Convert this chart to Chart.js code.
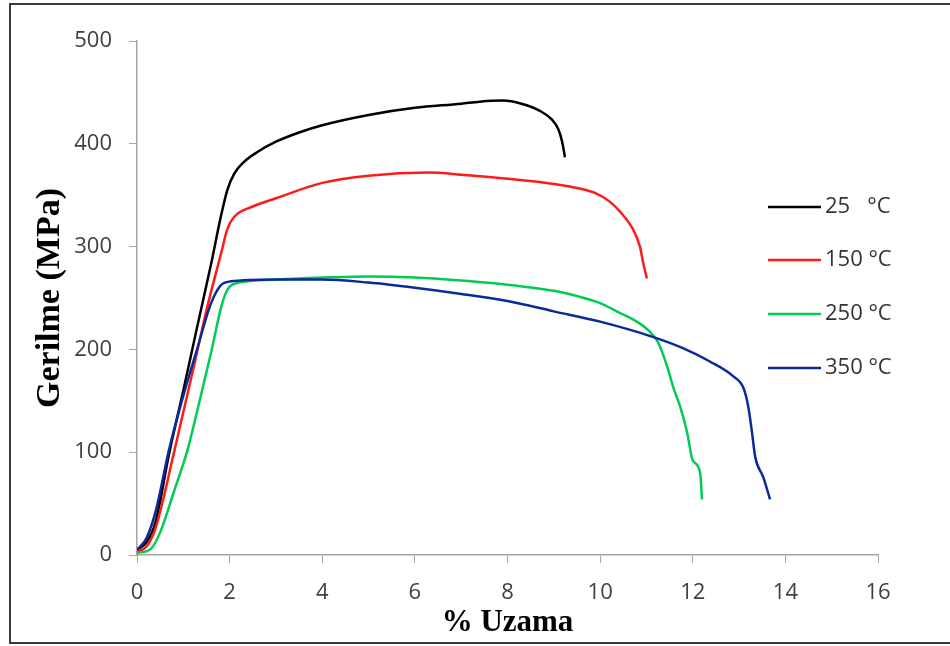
<!DOCTYPE html>
<html>
<head>
<meta charset="utf-8">
<script src="https://cdn.jsdelivr.net/npm/chart.js@4.4.1/dist/chart.umd.min.js"></script>
<style>
  html, body { margin: 0; padding: 0; background: #fff; }
  #wrap { width: 950px; height: 646px; }
</style>
</head>
<body>
<div id="wrap"><canvas id="stress"></canvas></div>
<script>
const ctx = document.getElementById('stress');

// % elongation / stress (MPa)
const SERIES_LABELS = ['25   °C', '150 °C', '250 °C', '350 °C'];

const strain25 = [0, 0.2, 0.4, 0.7, 1.0, 1.3, 1.6, 1.8, 1.95, 2.1, 2.3, 2.6, 3.0, 3.5, 4.0, 5.0, 6.0, 7.0, 7.4, 7.9, 8.3, 8.7, 8.95, 9.1, 9.18, 9.24];
const stress25 = [5, 12, 32, 100, 160, 222, 283, 327, 355, 371, 382, 392, 402, 411, 418, 428, 435, 439, 441, 442, 439, 432, 424, 414, 402, 387];

const strain150 = [0, 0.2, 0.4, 0.8, 1.2, 1.5, 1.83, 1.95, 2.1, 2.5, 3.0, 4.0, 5.0, 6.3, 7.0, 8.0, 9.0, 9.5, 9.9, 10.2, 10.43, 10.72, 10.86, 10.93, 11.01];
const stress150 = [3, 8, 26, 100, 178, 238, 296, 317, 329, 339, 347, 362, 369, 372, 370, 366, 361, 357, 352, 344, 334, 316, 300, 284, 269];

const strain250 = [0, 0.3, 0.5, 0.8, 1.09, 1.3, 1.61, 1.8, 1.9, 2.0, 2.2, 3.0, 4.0, 5.0, 6.0, 7.0, 8.0, 9.0, 9.5, 10.0, 10.4, 10.72, 11.08, 11.26, 11.45, 11.58, 11.73, 11.88, 12.0, 12.16, 12.2];
const stress250 = [2, 6, 22, 62, 102, 140, 199, 238, 253, 261, 265, 268, 270, 271, 270, 267, 263, 257, 252, 245, 236, 229, 217, 206, 183, 163, 144, 119, 92, 80, 54];

const strain350 = [0, 0.2, 0.4, 0.69, 1.0, 1.29, 1.6, 1.8, 1.9, 2.0, 3.0, 4.0, 5.0, 6.0, 7.0, 8.0, 9.0, 10.0, 11.15, 11.8, 12.38, 12.87, 13.1, 13.2, 13.28, 13.35, 13.52, 13.67];
const stress350 = [5, 16, 42, 102, 155, 199, 245, 262, 265, 266, 268, 268, 265, 260, 254, 247, 237, 227, 212, 201, 188, 174, 162, 144, 119, 95, 76, 54];

const X_TICKS = [0, 2, 4, 6, 8, 10, 12, 14, 16];
const Y_TICKS = [0, 100, 200, 300, 400, 500];

const COLORS = ['#000000', '#ff1a1a', '#00cc55', '#0a2a98'];

function toPoints(xs, ys) {
  return xs.map((x, i) => ({ x: x, y: ys[i] }));
}

const curves = [
  toPoints(strain25, stress25),
  toPoints(strain150, stress150),
  toPoints(strain250, stress250),
  toPoints(strain350, stress350)
];

const datasets = curves.map((pts, i) => ({
  label: SERIES_LABELS[i],
  data: pts,
  borderColor: COLORS[i],
  backgroundColor: COLORS[i],
  borderWidth: 2.5,
  pointRadius: 0,
  fill: false,
  cubicInterpolationMode: 'monotone',
  order: 3 - i
}));

// frame round the whole picture + legend on the right
const framePlugin = {
  id: 'frame',
  afterDraw(chart) {
    const c = chart.ctx;
    c.save();
    c.strokeStyle = '#3a3a3a';
    c.lineWidth = 2;
    c.strokeRect(10, 4, 960, 639);

    const ys = [207, 260, 314, 368];
    c.font = '22px "Open Sans"';
    c.textBaseline = 'middle';
    c.textAlign = 'left';
    chart.data.datasets.forEach((ds, i) => {
      c.strokeStyle = ds.borderColor;
      c.lineWidth = 2.5;
      c.beginPath();
      c.moveTo(768, ys[i]);
      c.lineTo(821, ys[i]);
      c.stroke();
      c.fillStyle = '#333333';
      c.fillText(ds.label, 825, ys[i]);
    });
    c.restore();
  }
};

const tickFont = { family: '"Open Sans"', size: 22 };
const axisGrey = '#a6a6a6';

new Chart(ctx, {
  type: 'line',
  data: { datasets },
  plugins: [framePlugin],
  options: {
    responsive: true,
    maintainAspectRatio: false,
    animation: false,
    layout: { padding: { left: 0, right: 72, top: 41, bottom: 0 } },
    plugins: {
      legend: { display: false },
      tooltip: { enabled: false }
    },
    scales: {
      x: {
        type: 'linear',
        min: 0,
        max: 16,
        afterBuildTicks: (s) => { s.ticks = X_TICKS.map(v => ({ value: v })); },
        afterFit: (s) => { s.height = 91; },
        border: { color: axisGrey, width: 1.5 },
        grid: { drawOnChartArea: false, drawTicks: true, tickLength: 8, color: axisGrey },
        ticks: { font: tickFont, color: '#404040', padding: 17, maxRotation: 0 },
        title: {
          display: true,
          text: '% Uzama',
          font: { family: '"Liberation Serif"', size: 31, weight: 'bold' },
          color: '#000',
          padding: { top: 4, bottom: 4 }
        }
      },
      y: {
        min: 0,
        max: 500,
        afterBuildTicks: (s) => { s.ticks = Y_TICKS.map(v => ({ value: v })); },
        afterFit: (s) => { s.width = 137; },
        border: { color: axisGrey, width: 1.5 },
        grid: { drawOnChartArea: false, drawTicks: true, tickLength: 8, color: axisGrey },
        ticks: { font: tickFont, color: '#404040', padding: 17 },
        title: {
          display: true,
          text: 'Gerilme (MPa)',
          font: { family: '"Liberation Serif"', size: 34, weight: 'bold' },
          color: '#000',
          padding: { top: 30, bottom: 4 }
        }
      }
    }
  }
});
</script>
</body>
</html>
